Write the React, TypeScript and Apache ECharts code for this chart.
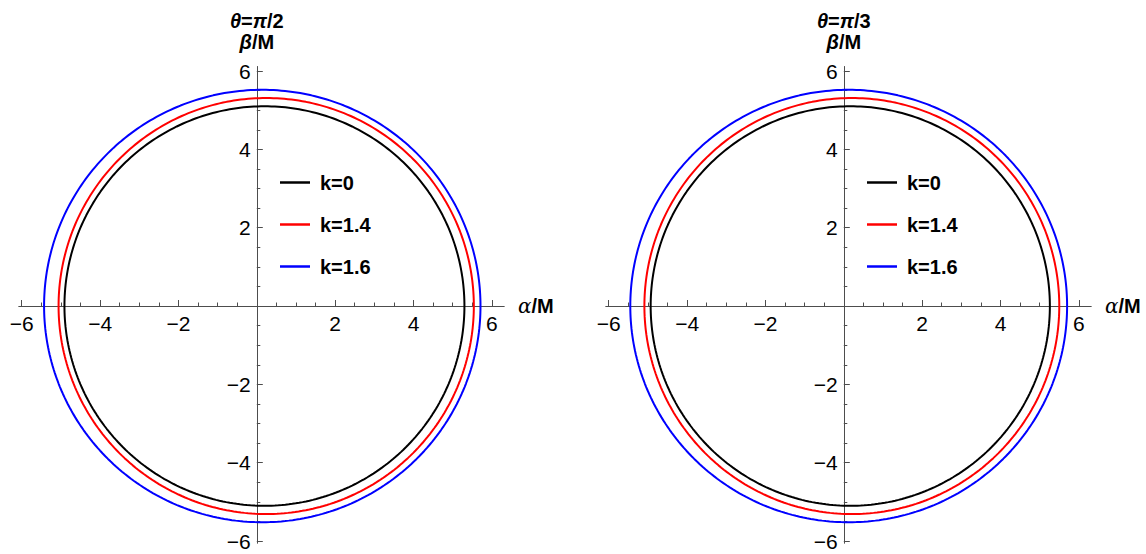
import React, { useEffect, useRef } from "react";
import * as echarts from "echarts";

// Curve labels and colours
const kLabels = ["k=0", "k=1.4", "k=1.6"];
const kColors = ["#000000", "#ff0000", "#0000ff"];

// Panel headings (inclination angle)
const panelTitles = [
  ["θ", "=", "π", "/2"],
  ["θ", "=", "π", "/3"],
];

// Shadow boundary: crossings of the α axis (left / right) and top of the β extent, per k
const alphaLeftA = [-4.91, -5.06, -5.43];
const alphaRightA = [5.3, 5.54, 5.71];
const betaTopA = [5.1, 5.31, 5.52];

const alphaLeftB = [-4.93, -5.09, -5.45];
const alphaRightB = [5.26, 5.5, 5.7];
const betaTopB = [5.1, 5.31, 5.52];

// Axis ranges and ticks
const xMin = -6.07;
const xMax = 6.31;
const yMin = -6.05;
const yMax = 6.11;
const majorTicks = [-6, -4, -2, 2, 4, 6];
const minorTicks = [
  -5.5, -5, -4.5, -3.5, -3, -2.5, -1.5, -1, -0.5, 0.5, 1, 1.5, 2.5, 3, 3.5, 4.5, 5, 5.5,
];

const FONT = "Liberation Sans, Arial, sans-serif";
const AXIS_COLOR = "#4d4d4d";

// Plot area geometry
const GRID_TOP = 66.7;
const GRID_W = 485;
const GRID_H = 476.3;
const gridLefts = [19, 606];

function boundary(left: number, right: number, top: number): number[][] {
  const cx = (left + right) / 2;
  const a = (right - left) / 2;
  const pts: number[][] = [];
  for (let deg = 0; deg <= 360; deg += 1) {
    const t = (deg * Math.PI) / 180;
    pts.push([cx + a * Math.cos(t), top * Math.sin(t)]);
  }
  return pts;
}

const fmt = (v: number) => (v < 0 ? "\u2212" + Math.abs(v) : String(v));

const nameRich = {
  gi: { fontFamily: FONT, fontStyle: "italic", fontWeight: "bold", fontSize: 20, color: "#000", lineHeight: 21 },
  gb: { fontFamily: FONT, fontWeight: "bold", fontSize: 20, color: "#000", lineHeight: 21 },
  ai: { fontFamily: "DejaVu Serif, serif", fontStyle: "italic", fontSize: 20, color: "#000" },
  ab: { fontFamily: FONT, fontWeight: "bold", fontSize: 20, color: "#000" },
};

export default function App() {
  const ref = useRef<HTMLDivElement>(null);

  useEffect(() => {
    if (!ref.current) return;
    const chart = echarts.init(ref.current, undefined, { renderer: "svg" });

    // Shift the axes from the plot edges to the origin
    const xAxisShift = -((0 - yMin) * GRID_H) / (yMax - yMin);
    const yAxisShift = -((0 - xMin) * GRID_W) / (xMax - xMin);

    const panels = [
      { L: alphaLeftA, R: alphaRightA, T: betaTopA },
      { L: alphaLeftB, R: alphaRightB, T: betaTopB },
    ];

    const grids: any[] = [];
    const xAxes: any[] = [];
    const yAxes: any[] = [];
    const series: any[] = [];
    const legends: any[] = [];

    const baseAxis = (i: number) => ({
      type: "value",
      gridIndex: i,
      axisLine: { show: true, onZero: false, lineStyle: { color: AXIS_COLOR, width: 1 } },
      splitLine: { show: false },
    });

    panels.forEach((p, i) => {
      grids.push({
        left: gridLefts[i],
        top: GRID_TOP,
        width: GRID_W,
        height: GRID_H,
        containLabel: false,
        outerBoundsMode: "none",
      });
      const t = panelTitles[i];
      xAxes.push({
        ...baseAxis(i),
        position: "bottom",
        offset: xAxisShift,
        min: xMin,
        max: xMax,
        axisTick: { show: true, inside: true, length: 6, customValues: majorTicks, lineStyle: { color: AXIS_COLOR } },
        axisLabel: { show: true, customValues: majorTicks, formatter: fmt, fontSize: 21, fontFamily: FONT, color: "#000", margin: 7 },
        name: "{ai|α}{ab|/M}",
        nameLocation: "end",
        nameGap: 14,
        nameTextStyle: { rich: nameRich },
      });
      xAxes.push({
        ...baseAxis(i),
        position: "bottom",
        offset: xAxisShift,
        min: xMin,
        max: xMax,
        axisTick: { show: true, inside: true, length: 3.5, customValues: minorTicks, lineStyle: { color: AXIS_COLOR } },
        axisLabel: { show: false },
      });
      yAxes.push({
        ...baseAxis(i),
        position: "left",
        offset: yAxisShift,
        min: yMin,
        max: yMax,
        axisTick: { show: true, inside: true, length: 6, customValues: majorTicks, lineStyle: { color: AXIS_COLOR } },
        axisLabel: { show: true, customValues: majorTicks, formatter: fmt, fontSize: 21, fontFamily: FONT, color: "#000", margin: 6 },
        name: `{gi|${t[0]}}{gb|${t[1]}}{gi|${t[2]}}{gb|${t[3]}}\n{gi|β}{gb|/M}`,
        nameLocation: "end",
        nameGap: 14,
        nameTextStyle: { align: "center", verticalAlign: "bottom", rich: nameRich },
      });
      yAxes.push({
        ...baseAxis(i),
        position: "left",
        offset: yAxisShift,
        min: yMin,
        max: yMax,
        axisTick: { show: true, inside: true, length: 3.5, customValues: minorTicks, lineStyle: { color: AXIS_COLOR } },
        axisLabel: { show: false },
      });

      kLabels.forEach((name, j) => {
        series.push({
          type: "line",
          name,
          xAxisIndex: 2 * i,
          yAxisIndex: 2 * i,
          data: boundary(p.L[j], p.R[j], p.T[j]),
          showSymbol: false,
          symbol: "none",
          smooth: false,
          color: kColors[j],
          lineStyle: { width: 2, color: kColors[j] },
          itemStyle: { color: kColors[j] },
          z: 3 + j,
        });
      });

      legends.push({
        orient: "vertical",
        left: gridLefts[i] + 256,
        top: 167,
        icon: "rect",
        itemWidth: 30,
        itemHeight: 2.5,
        itemGap: 21,
        data: kLabels,
        textStyle: { fontFamily: FONT, fontWeight: "bold", fontSize: 20, color: "#000", lineHeight: 21, padding: [0, 0, 0, 5] },
      });
    });

    chart.setOption({
      animation: false,
      backgroundColor: "#ffffff",
      grid: grids,
      xAxis: xAxes,
      yAxis: yAxes,
      legend: legends,
      series,
    });

    return () => chart.dispose();
  }, []);

  return (
    <div
      ref={ref}
      style={{ position: "absolute", left: 0, top: 0, width: 1146, height: 554, background: "#fff" }}
    />
  );
}
